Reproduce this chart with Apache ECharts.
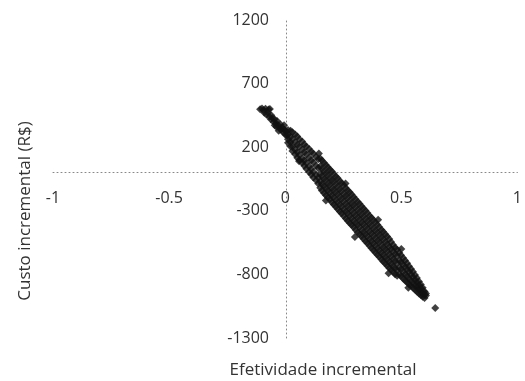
<!DOCTYPE html>
<html>
<head>
<meta charset="utf-8">
<script src="https://cdn.jsdelivr.net/npm/echarts@6/dist/echarts.min.js"></script>
<style>
  html, body { margin: 0; padding: 0; background: #fff; }
  #chart { width: 525px; height: 381px; }
</style>
</head>
<body>
<div id="chart"></div>
<script>
// eixos
const xTicks = [-1, -0.5, 0, 0.5, 1]
const yTicks = [-1300, -800, -300, 200, 700, 1200]
const xName = 'Efetividade incremental'
const yName = 'Custo incremental (R$)'

// simulações [efetividade incremental, custo incremental]
const simulations = [
  // topo da nuvem
  [-0.108, 498], [-0.100, 505], [-0.094, 490], [-0.085, 502], [-0.072, 496], [-0.066, 500],
  [-0.090, 470], [-0.080, 455], [-0.075, 470], [-0.068, 440], [-0.060, 452], [-0.062, 420],
  [-0.055, 430], [-0.050, 398], [-0.046, 420], [-0.040, 388], [-0.035, 405], [-0.038, 360],
  [-0.030, 372], [-0.025, 350], [-0.020, 378], [-0.018, 335], [-0.012, 352], [-0.008, 318],
  [-0.004, 340], [0.000, 300], [0.004, 325], [-0.028, 330], [-0.045, 372], [0.008, 290],
  // trecho 0 - 0.15
  [0.012, 335], [0.012, 300], [0.012, 262], [0.012, 235],
  [0.023, 330], [0.023, 282], [0.023, 238], [0.023, 205],
  [0.031, 318], [0.031, 262], [0.031, 205], [0.031, 170],
  [0.043, 300], [0.043, 240], [0.043, 180], [0.043, 145],
  [0.052, 285], [0.052, 220], [0.052, 160], [0.052, 118],
  [0.061, 262], [0.061, 205], [0.061, 138], [0.061, 100],
  [0.073, 245], [0.073, 180], [0.073, 112], [0.073, 78],
  [0.082, 222], [0.082, 160], [0.082, 95], [0.082, 55],
  [0.091, 205], [0.091, 142], [0.091, 75], [0.091, 30],
  [0.103, 185], [0.103, 118], [0.103, 48], [0.103, 5],
  [0.112, 165], [0.112, 98], [0.112, 28], [0.112, -15],
  [0.121, 150], [0.121, 80], [0.121, 5], [0.121, -38],
  [0.133, 125], [0.133, 55], [0.133, -18], [0.133, -60],
  [0.142, 105], [0.142, 35], [0.142, -40], [0.142, -85],
  // trecho 0.15 - 0.48
  [0.151, 112], [0.151, 50], [0.151, -10], [0.151, -70], [0.151, -118],
  [0.158, 95], [0.158, 30], [0.158, -28], [0.158, -92], [0.158, -140],
  [0.167, 78], [0.167, 12], [0.167, -50], [0.167, -105], [0.167, -160],
  [0.175, 60], [0.175, -5], [0.175, -62], [0.175, -125], [0.175, -178],
  [0.184, 42], [0.184, -20], [0.184, -85], [0.184, -140], [0.184, -195],
  [0.192, 25], [0.192, -40], [0.192, -98], [0.192, -160], [0.192, -212],
  [0.201, 8], [0.201, -58], [0.201, -120], [0.201, -178], [0.201, -232],
  [0.209, -10], [0.209, -72], [0.209, -135], [0.209, -195], [0.209, -250],
  [0.218, -30], [0.218, -92], [0.218, -155], [0.218, -215], [0.218, -268],
  [0.226, -45], [0.226, -108], [0.226, -170], [0.226, -232], [0.226, -285],
  [0.235, -65], [0.235, -128], [0.235, -190], [0.235, -250], [0.235, -305],
  [0.243, -82], [0.243, -145], [0.243, -208], [0.243, -268], [0.243, -322],
  [0.252, -100], [0.252, -165], [0.252, -225], [0.252, -288], [0.252, -340],
  [0.261, -120], [0.261, -182], [0.261, -245], [0.261, -305], [0.261, -360],
  [0.269, -138], [0.269, -200], [0.269, -262], [0.269, -322], [0.269, -378],
  [0.278, -155], [0.278, -220], [0.278, -280], [0.278, -340], [0.278, -395],
  [0.286, -172], [0.286, -238], [0.286, -298], [0.286, -358], [0.286, -412],
  [0.295, -192], [0.295, -255], [0.295, -318], [0.295, -378], [0.295, -430],
  [0.303, -210], [0.303, -272], [0.303, -335], [0.303, -395], [0.303, -448],
  [0.312, -228], [0.312, -292], [0.312, -352], [0.312, -412], [0.312, -468],
  [0.320, -245], [0.320, -310], [0.320, -370], [0.320, -430], [0.320, -485],
  [0.329, -265], [0.329, -328], [0.329, -390], [0.329, -450], [0.329, -502],
  [0.337, -282], [0.337, -345], [0.337, -405], [0.337, -468], [0.337, -520],
  [0.346, -300], [0.346, -365], [0.346, -425], [0.346, -485], [0.346, -540],
  [0.354, -318], [0.354, -382], [0.354, -442], [0.354, -502], [0.354, -555],
  [0.363, -338], [0.363, -400], [0.363, -462], [0.363, -522], [0.363, -575],
  [0.371, -355], [0.371, -418], [0.371, -478], [0.371, -540], [0.371, -592],
  [0.380, -372], [0.380, -438], [0.380, -498], [0.380, -558], [0.380, -610],
  [0.388, -390], [0.388, -455], [0.388, -515], [0.388, -575], [0.388, -628],
  [0.397, -410], [0.397, -472], [0.397, -535], [0.397, -595], [0.397, -645],
  [0.405, -428], [0.405, -490], [0.405, -550], [0.405, -612], [0.405, -662],
  [0.414, -448], [0.414, -508], [0.414, -570], [0.414, -630], [0.414, -680],
  [0.422, -465], [0.422, -525], [0.422, -588], [0.422, -648], [0.422, -698],
  [0.431, -485], [0.431, -545], [0.431, -605], [0.431, -665], [0.431, -715],
  [0.439, -502], [0.439, -562], [0.439, -622], [0.439, -682], [0.439, -732],
  [0.448, -522], [0.448, -582], [0.448, -642], [0.448, -700], [0.448, -750],
  [0.456, -545], [0.456, -600], [0.456, -660], [0.456, -718], [0.456, -765],
  [0.465, -568], [0.465, -620], [0.465, -678], [0.465, -735], [0.465, -782],
  [0.473, -590], [0.473, -640], [0.473, -695], [0.473, -752], [0.473, -798],
  // trecho final
  [0.482, -605], [0.482, -655], [0.482, -712], [0.482, -768], [0.482, -810],
  [0.491, -630], [0.491, -690], [0.491, -745], [0.491, -800],
  [0.499, -650], [0.499, -705], [0.499, -760], [0.499, -815],
  [0.508, -672], [0.508, -725], [0.508, -780], [0.508, -832],
  [0.516, -690], [0.516, -742], [0.516, -798], [0.516, -848],
  [0.525, -712], [0.525, -762], [0.525, -815], [0.525, -862],
  [0.533, -735], [0.533, -780], [0.533, -832], [0.533, -878],
  [0.542, -758], [0.542, -800], [0.542, -850], [0.542, -892],
  [0.550, -780], [0.550, -820], [0.550, -865], [0.550, -905],
  [0.559, -805], [0.559, -842], [0.559, -885], [0.559, -920],
  [0.567, -828], [0.567, -862], [0.567, -900], [0.567, -935],
  [0.576, -855], [0.576, -885], [0.576, -918], [0.576, -950],
  [0.584, -880], [0.584, -905], [0.584, -935], [0.584, -962],
  [0.592, -905], [0.592, -928], [0.592, -955], [0.592, -975],
  [0.600, -935], [0.600, -960], [0.600, -985],
  [0.606, -965], [0.606, -950],
  // pontos soltos nas bordas
  [0.060, 90], [0.175, -220], [0.300, -505], [0.445, -790], [0.530, -905],
  [0.145, 150], [0.260, -85], [0.400, -370], [0.500, -600], [-0.005, 372],
  [0.646, -1065]
]

const textColor = '#333'
const font = 'Open Sans'

const chart = echarts.init(document.getElementById('chart'), null, { renderer: 'canvas' })

const option = {
  backgroundColor: '#fff',
  animation: false,
  grid: { left: 53, right: 6, top: 20, bottom: 43, containLabel: false },
  xAxis: {
    type: 'value',
    min: xTicks[0],
    max: xTicks[xTicks.length - 1],
    interval: 0.5,
    offset: -165.4, // eixo passa em y = 0
    axisLine: { show: true, onZero: false, lineStyle: { color: '#888', width: 1, type: [1, 3] } },
    axisTick: { show: false },
    splitLine: { show: false },
    axisLabel: { color: textColor, fontFamily: font, fontSize: 16, margin: 18 }
  },
  yAxis: {
    type: 'value',
    min: yTicks[0],
    max: yTicks[yTicks.length - 1],
    interval: 500,
    offset: -233, // eixo passa em x = 0
    axisLine: { show: true, onZero: false, lineStyle: { color: '#888', width: 1, type: [1, 3] } },
    axisTick: { show: false },
    splitLine: { show: false },
    axisLabel: {
      color: textColor,
      fontFamily: font,
      fontSize: 16,
      margin: 17,
      formatter: (v) => String(v)
    }
  },
  graphic: [
    {
      type: 'text',
      x: 323,
      y: 370,
      style: { text: xName, fill: textColor, font: '17px "Open Sans"', align: 'center', verticalAlign: 'middle' }
    },
    {
      type: 'text',
      x: 25,
      y: 211,
      rotation: Math.PI / 2,
      style: { text: yName, fill: textColor, font: '17px "Open Sans"', align: 'center', verticalAlign: 'middle' }
    }
  ],
  series: [
    {
      type: 'scatter',
      symbol: 'diamond',
      symbolSize: 8,
      itemStyle: { color: '#111' },
      data: simulations
    }
  ]
}

chart.setOption(option)
</script>
</body>
</html>
